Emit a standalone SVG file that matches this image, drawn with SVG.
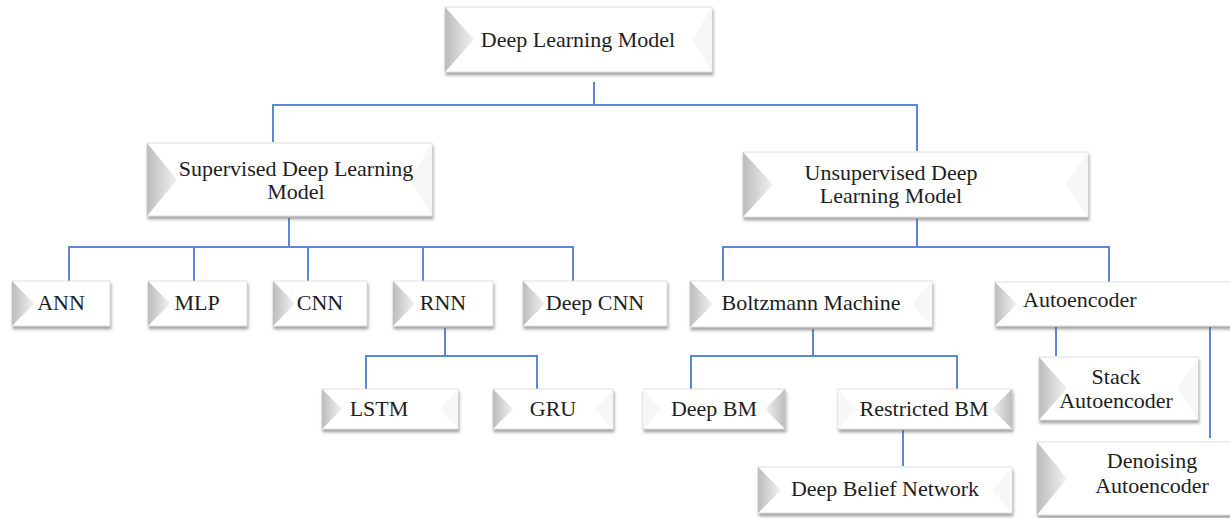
<svg xmlns="http://www.w3.org/2000/svg" width="1230" height="518" viewBox="0 0 1230 518">
<style>
.face{fill:#ffffff;stroke:#d8d8d8;stroke-width:0.8;filter:url(#sh)}
.bev{fill:url(#gl)}
.bevr{fill:url(#gr)}
.faint{fill:#f7f7f7}
.t{font-family:"Liberation Serif","Times New Roman",serif;font-size:22px;fill:#1e1e1e;text-anchor:middle}
.c{fill:none;stroke:#5b87d6;stroke-width:2}
</style>
<defs>
<filter id="sh" x="-10%" y="-20%" width="120%" height="150%">
<feDropShadow dx="1" dy="3" stdDeviation="1.6" flood-color="#555" flood-opacity="0.55"/>
</filter>
<linearGradient id="gl" x1="0" y1="0" x2="1" y2="0">
<stop offset="0" stop-color="#bcbcbc"/>
<stop offset="1" stop-color="#f2f2f2"/>
</linearGradient>
<linearGradient id="gr" x1="1" y1="0" x2="0" y2="0">
<stop offset="0" stop-color="#bcbcbc"/>
<stop offset="1" stop-color="#f2f2f2"/>
</linearGradient>
</defs>
<rect width="1230" height="518" fill="#ffffff"/>

<g id="connectors">
<path class="c" d="M594 82V105M273 142V105H917V151"/>
<path class="c" d="M289 218V247M69 281V247H573V281M194 247V281M308 247V281M423 247V281"/>
<path class="c" d="M917 219V247M723 281V247H1109V282"/>
<path class="c" d="M445 328V356M366 389V356H537V389"/>
<path class="c" d="M813 329V356M691 389V356H957V389"/>
<path class="c" d="M903 430V466"/>
<path class="c" d="M1056 327V356M1210 327V438"/>
</g>

<g id="n-root">
<rect class="face" x="445" y="7" width="267" height="65"/>
<polygon class="bev" points="445,7 474,39.5 445,72"/>
<polygon class="faint" points="712,7 692,39.5 712,72"/>
<text class="t" x="578" y="47">Deep Learning Model</text>
</g>

<g id="n-supervised">
<rect class="face" x="147" y="143" width="285" height="73"/>
<polygon class="bev" points="147,143 177,179.5 147,216"/>
<polygon class="faint" points="432,143 410,179.5 432,216"/>
<text class="t" x="296" y="176">Supervised Deep Learning</text>
<text class="t" x="296" y="199">Model</text>
</g>

<g id="n-unsupervised">
<rect class="face" x="743" y="152" width="345" height="65"/>
<polygon class="bev" points="743,152 773,184.5 743,217"/>
<polygon class="faint" points="1088,152 1066,184.5 1088,217"/>
<text class="t" x="891" y="180">Unsupervised Deep</text>
<text class="t" x="891" y="203">Learning Model</text>
</g>

<g id="n-ann">
<rect class="face" x="12" y="281" width="98" height="45"/>
<polygon class="bev" points="12,281 34,303.5 12,326"/>
<text class="t" x="61" y="310">ANN</text>
</g>

<g id="n-mlp">
<rect class="face" x="148" y="281" width="99" height="45"/>
<polygon class="bev" points="148,281 170,303.5 148,326"/>
<text class="t" x="197" y="310">MLP</text>
</g>

<g id="n-cnn">
<rect class="face" x="273" y="281" width="94" height="45"/>
<polygon class="bev" points="273,281 295,303.5 273,326"/>
<text class="t" x="320" y="310">CNN</text>
</g>

<g id="n-rnn">
<rect class="face" x="393" y="281" width="100" height="45"/>
<polygon class="bev" points="393,281 415,303.5 393,326"/>
<text class="t" x="443" y="310">RNN</text>
</g>

<g id="n-deepcnn">
<rect class="face" x="523" y="281" width="144" height="45"/>
<polygon class="bev" points="523,281 545,303.5 523,326"/>
<text class="t" x="595" y="310">Deep CNN</text>
</g>

<g id="n-boltzmann">
<rect class="face" x="690" y="281" width="242" height="46"/>
<polygon class="bev" points="690,281 713,304 690,327"/>
<polygon class="faint" points="932,281 912,304 932,327"/>
<text class="t" x="811" y="310">Boltzmann Machine</text>
</g>

<g id="n-autoencoder">
<rect class="face" x="995" y="282" width="240" height="44"/>
<polygon class="bev" points="995,282 1017,304 995,326"/>
<text class="t" x="1023" y="307" style="text-anchor:start">Autoencoder</text>
</g>

<g id="n-lstm">
<rect class="face" x="322" y="389" width="136" height="40"/>
<polygon class="bev" points="322,389 342,409 322,429"/>
<polygon class="faint" points="458,389 440,409 458,429"/>
<text class="t" x="379" y="416">LSTM</text>
</g>

<g id="n-gru">
<rect class="face" x="493" y="389" width="120" height="40"/>
<polygon class="bev" points="493,389 513,409 493,429"/>
<polygon class="faint" points="613,389 595,409 613,429"/>
<text class="t" x="553" y="416">GRU</text>
</g>

<g id="n-deepbm">
<rect class="face" x="643" y="389" width="142" height="40"/>
<polygon class="bevr" points="785,389 765,409 785,429"/>
<polygon class="faint" points="643,389 661,409 643,429"/>
<text class="t" x="714" y="416">Deep BM</text>
</g>

<g id="n-restrictedbm">
<rect class="face" x="838" y="389" width="174" height="40"/>
<polygon class="bevr" points="1012,389 992,409 1012,429"/>
<polygon class="faint" points="838,389 856,409 838,429"/>
<text class="t" x="924" y="416">Restricted BM</text>
</g>

<g id="n-dbn">
<rect class="face" x="758" y="467" width="254" height="46"/>
<polygon class="bev" points="758,467 781,490 758,513"/>
<polygon class="faint" points="1012,467 992,490 1012,513"/>
<text class="t" x="885" y="496">Deep Belief Network</text>
</g>

<g id="n-stack">
<rect class="face" x="1039" y="357" width="159" height="63"/>
<polygon class="bev" points="1039,357 1067,388.5 1039,420"/>
<polygon class="faint" points="1198,357 1178,388.5 1198,420"/>
<text class="t" x="1116" y="384">Stack</text>
<text class="t" x="1116" y="408">Autoencoder</text>
</g>

<g id="n-denoising">
<rect class="face" x="1037" y="442" width="200" height="73"/>
<polygon class="bev" points="1037,442 1067,478.5 1037,515"/>
<text class="t" x="1152" y="468">Denoising</text>
<text class="t" x="1152" y="493">Autoencoder</text>
</g>
</svg>
